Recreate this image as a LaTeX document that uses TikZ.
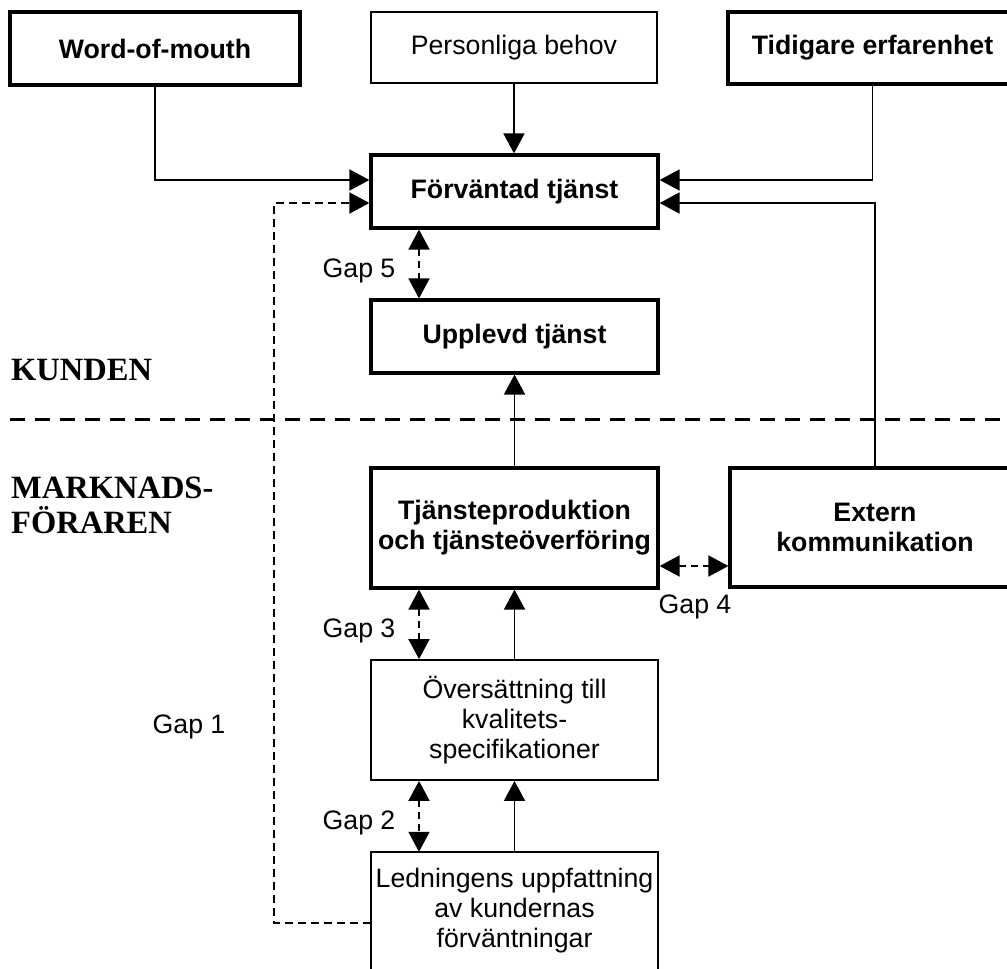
\documentclass[tikz,border=0pt]{standalone}
\usepackage{fontspec}
\setmainfont{Liberation Sans}
\newfontfamily\serifbold{Liberation Serif}
\usetikzlibrary{arrows.meta,calc}

\begin{document}
\begin{tikzpicture}[x=1pt,y=-1pt,
  every node/.style={font=\fontsize{26.7}{30}\selectfont, align=center, inner sep=0pt},
  boxthick/.style={draw, line width=3.2pt, font=\fontsize{26.7}{30}\selectfont\bfseries},
  boxthin/.style={draw, line width=1.8pt},
  conn/.style={line width=1.8pt, -{Triangle[length=20pt,width=21pt]}},
  gap/.style={line width=1.8pt, dash pattern=on 7pt off 5pt,
    {Triangle[length=20pt,width=21pt]}-{Triangle[length=20pt,width=21pt]}},
  gapone/.style={line width=1.8pt, dash pattern=on 8pt off 5pt,
    -{Triangle[length=20pt,width=21pt]}},
  divider/.style={line width=3pt, dash pattern=on 15pt off 10pt},
  side/.style={font=\fontsize{32.5}{35}\selectfont\serifbold\bfseries, align=left},
  gaplabel/.style={anchor=base},
]
\useasboundingbox (0,0) rectangle (1007,969);
\clip (0,0) rectangle (1007,969);

% influences on the expected service
\node[boxthick, minimum width=290pt, minimum height=73pt] (wom)  at (155,48.5) {Word-of-mouth};
\node[boxthin,  minimum width=286pt, minimum height=71pt] (pers) at (514,47.5) {Personliga behov};
\node[boxthick, minimum width=289pt, minimum height=72pt] (tid)  at (872.5,48) {Tidigare erfarenhet};

% customer side
\node[boxthick, minimum width=287pt, minimum height=73pt] (forv) at (514.5,191.5) {Förväntad tjänst};
\node[boxthick, minimum width=287pt, minimum height=73pt] (uppl) at (514.5,336.5) {Upplevd tjänst};

% provider side
\node[boxthick, minimum width=287pt, minimum height=120pt] (tjp) at (514.5,528) {Tjänsteproduktion\\och tjänsteöverföring};
\node[boxthick, minimum width=290pt, minimum height=119pt] (ext) at (875,527.5) {Extern\\kommunikation};
\node[boxthin,  minimum width=287pt, minimum height=120pt] (overs) at (514.5,720) {Översättning till\\kvalitets-\\specifikationer};
\node[minimum width=287pt, minimum height=117pt] (led) at (514.5,910.5) {Ledningens uppfattning\\av kundernas\\förväntningar};
\draw[line width=1.8pt] (led.north west) rectangle ($(led.south east)+(0,30)$);

% section labels and divider
\node[side, anchor=base west] (kund) at (11,380) {KUNDEN};
\node[side, anchor=north west] (mark) at (11,477) {MARKNADS-\\FÖRAREN};
\draw[divider] (10,419.5) -- (1007,419.5);

% solid connectors
\draw[conn] (wom.south) |- ($(forv.west)+(0,-11.5)$);
\draw[conn] (pers.south) -- (pers.south |- forv.north);
\draw[conn] (tid.south) |- ($(forv.east)+(0,-11.5)$);
\draw[conn] (ext.north) |- ($(forv.east)+(0,11.5)$);
\draw[conn] (tjp.north) -- (uppl.south);
\draw[conn] (overs.north) -- (tjp.south);
\draw[conn] (led.north) -- (overs.south);

% gaps
\draw[gap] ($(forv.south)+(-95.5,0)$) -- ($(uppl.north)+(-95.5,0)$);
\draw[gap] ($(tjp.east)+(0,38)$) -- ($(ext.west)+(0,38.5)$);
\draw[gap] ($(tjp.south)+(-95.5,0)$) -- ($(overs.north)+(-95.5,0)$);
\draw[gap] ($(overs.south)+(-95.5,0)$) -- ($(led.north)+(-95.5,0)$);
\coordinate (g1) at (274,203);
\draw[gapone] ($(led.west)+(0,12.5)$) -| (g1) -- ($(forv.west)+(0,11.5)$);

\node[gaplabel] (gap5) at (359,277) {Gap 5};
\node[gaplabel] (gap4) at (695,613) {Gap 4};
\node[gaplabel] (gap3) at (359,637) {Gap 3};
\node[gaplabel] (gap2) at (359,829) {Gap 2};
\node[gaplabel] (gap1) at (189,733) {Gap 1};
\end{tikzpicture}
\end{document}
